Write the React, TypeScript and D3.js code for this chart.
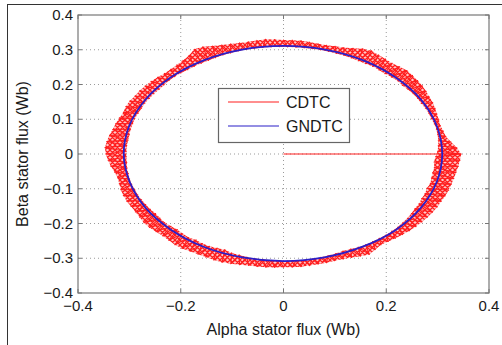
import React, { useEffect, useRef } from "react";
import * as d3 from "d3";

// tick values shared by both axes (Wb)
const ticksX = [-0.4, -0.2, 0, 0.2, 0.4];
const ticksY = [-0.4, -0.3, -0.2, -0.1, 0, 0.1, 0.2, 0.3, 0.4];

// CDTC flux trajectory: hysteresis band envelope, one pair every 3 degrees (0..357)
const cdtcStep = 3;
const cdtcOuter = [
  0.346, 0.338, 0.328, 0.320, 0.318, 0.316, 0.318, 0.320, 0.323, 0.326,
  0.328, 0.331, 0.334, 0.336, 0.338, 0.340, 0.338, 0.336, 0.338, 0.340,
  0.343, 0.340, 0.333, 0.328, 0.326, 0.324, 0.324, 0.326, 0.328, 0.328,
  0.328, 0.330, 0.332, 0.331, 0.330, 0.331, 0.333, 0.336, 0.340, 0.346,
  0.348, 0.338, 0.333, 0.330, 0.328, 0.328, 0.330, 0.332, 0.333, 0.334,
  0.334, 0.336, 0.336, 0.334, 0.336, 0.338, 0.340, 0.343, 0.346, 0.348,
  0.346, 0.342, 0.338, 0.333, 0.330, 0.331, 0.333, 0.334, 0.334, 0.333,
  0.333, 0.334, 0.336, 0.336, 0.334, 0.333, 0.334, 0.336, 0.336, 0.334,
  0.333, 0.333, 0.334, 0.334, 0.332, 0.330, 0.328, 0.328, 0.328, 0.327,
  0.326, 0.326, 0.326, 0.325, 0.324, 0.324, 0.323, 0.324, 0.326, 0.330,
  0.334, 0.328, 0.323, 0.324, 0.326, 0.328, 0.330, 0.332, 0.333, 0.334,
  0.335, 0.336, 0.336, 0.337, 0.338, 0.338, 0.339, 0.340, 0.342, 0.344,
];
const cdtcInner = [
  0.300, 0.302, 0.304, 0.305, 0.306, 0.306, 0.305, 0.306, 0.306, 0.305,
  0.306, 0.306, 0.305, 0.304, 0.306, 0.305, 0.304, 0.305, 0.306, 0.305,
  0.305, 0.306, 0.307, 0.307, 0.308, 0.308, 0.308, 0.308, 0.308, 0.308,
  0.309, 0.309, 0.309, 0.309, 0.309, 0.309, 0.308, 0.308, 0.307, 0.306,
  0.306, 0.306, 0.306, 0.307, 0.307, 0.307, 0.306, 0.305, 0.306, 0.306,
  0.307, 0.306, 0.306, 0.307, 0.306, 0.306, 0.305, 0.305, 0.306, 0.306,
  0.306, 0.306, 0.307, 0.307, 0.308, 0.308, 0.307, 0.307, 0.306, 0.305,
  0.304, 0.302, 0.303, 0.304, 0.302, 0.300, 0.302, 0.303, 0.300, 0.302,
  0.302, 0.300, 0.298, 0.302, 0.303, 0.305, 0.306, 0.306, 0.307, 0.307,
  0.308, 0.308, 0.308, 0.307, 0.306, 0.305, 0.304, 0.302, 0.303, 0.305,
  0.306, 0.306, 0.306, 0.307, 0.306, 0.306, 0.305, 0.304, 0.302, 0.300,
  0.300, 0.298, 0.298, 0.296, 0.298, 0.296, 0.295, 0.296, 0.294, 0.296,
];
// start-up segment of CDTC from the origin
const cdtcStart = [
  [0, 0],
  [0.31, 0],
];

// GNDTC flux trajectory, radius every 15 degrees
const gndtcStep = 15;
const gndtcR = [
  0.309, 0.309, 0.310, 0.310, 0.311, 0.311, 0.311, 0.311, 0.311, 0.311, 0.311, 0.311,
  0.311, 0.310, 0.310, 0.309, 0.309, 0.308, 0.308, 0.308, 0.308, 0.309, 0.309, 0.309,
];

const seriesNames = ["CDTC", "GNDTC"];
const seriesColors = ["#ff1e1e", "#2a1fc8"];

const W = 502;
const H = 345;
const FONT = "'Liberation Sans', Arial, Helvetica, sans-serif";

export default function App() {
  const ref = useRef<SVGSVGElement>(null);

  useEffect(() => {
    if (!ref.current) return;
    const svg = d3.select(ref.current);
    svg.selectAll("*").remove();

    const x = d3.scaleLinear().domain([-0.4, 0.4]).range([78, 489]);
    const y = d3.scaleLinear().domain([-0.4, 0.4]).range([293, 15]);

    svg.append("rect").attr("width", W).attr("height", H).attr("fill", "#fff");
    // figure frame
    svg
      .append("rect")
      .attr("x", 7.5)
      .attr("y", 4.5)
      .attr("width", 520)
      .attr("height", 360)
      .attr("fill", "none")
      .attr("stroke", "#333")
      .attr("stroke-width", 1);

    // crosshatch used for the densely switching CDTC band
    const defs = svg.append("defs");
    const pat = defs
      .append("pattern")
      .attr("id", "cdtc-hatch")
      .attr("patternUnits", "userSpaceOnUse")
      .attr("width", 5)
      .attr("height", 5);
    pat.append("rect").attr("width", 5).attr("height", 5).attr("fill", "#ffc8c8");
    pat
      .append("path")
      .attr("d", "M0,0L5,5M0,5L5,0M-1,4L1,6M4,-1L6,1M-1,1L1,-1M4,6L6,4")
      .attr("stroke", seriesColors[0])
      .attr("stroke-width", 1.25);

    // grid
    const grid = svg.append("g").attr("stroke", "#9a9a9a").attr("stroke-width", 1).attr("stroke-dasharray", "1,3");
    ticksX.slice(1, -1).forEach((t) => {
      grid.append("line").attr("x1", x(t)).attr("x2", x(t)).attr("y1", y(-0.4)).attr("y2", y(0.4));
    });
    ticksY.slice(1, -1).forEach((t) => {
      grid.append("line").attr("x1", x(-0.4)).attr("x2", x(0.4)).attr("y1", y(t)).attr("y2", y(t));
    });

    const toXY = (r: number, deg: number): [number, number] => {
      const a = (deg * Math.PI) / 180;
      return [x(r * Math.cos(a)), y(r * Math.sin(a))];
    };

    // CDTC band (envelope of the switching trajectory)
    const outerPts = cdtcOuter.map((r, i) => toXY(r, i * cdtcStep));
    const innerPts = cdtcInner.map((r, i) => toXY(r, i * cdtcStep + cdtcStep / 2));
    const closed = d3.line().curve(d3.curveLinearClosed);
    svg
      .append("path")
      .attr("d", (closed(outerPts) || "") + (closed(innerPts) || ""))
      .attr("fill", "url(#cdtc-hatch)")
      .attr("fill-rule", "evenodd")
      .attr("stroke", "none");

    // CDTC trajectory
    const pts: [number, number][] = cdtcStart.map((p) => [x(p[0]), y(p[1])] as [number, number]);
    cdtcOuter.forEach((ro, i) => {
      pts.push(toXY(ro, i * cdtcStep));
      pts.push(toXY(cdtcInner[i], i * cdtcStep + cdtcStep / 2));
    });
    pts.push(toXY(cdtcOuter[0], 360));
    svg
      .append("path")
      .attr("d", d3.line()(pts))
      .attr("fill", "none")
      .attr("stroke", seriesColors[0])
      .attr("stroke-width", 1.1)
      .attr("stroke-linejoin", "round");

    // GNDTC
    const gpts = gndtcR.map((r, i) => toXY(r, i * gndtcStep));
    svg
      .append("path")
      .attr("d", d3.line().curve(d3.curveCatmullRomClosed)(gpts))
      .attr("fill", "none")
      .attr("stroke", seriesColors[1])
      .attr("stroke-width", 1.8);

    // axes box
    svg
      .append("rect")
      .attr("x", x(-0.4))
      .attr("y", y(0.4))
      .attr("width", x(0.4) - x(-0.4))
      .attr("height", y(-0.4) - y(0.4))
      .attr("fill", "none")
      .attr("stroke", "#777")
      .attr("stroke-width", 1.2);

    // ticks (inside)
    const tk = svg.append("g").attr("stroke", "#777").attr("stroke-width", 1);
    ticksX.forEach((t) => {
      tk.append("line").attr("x1", x(t)).attr("x2", x(t)).attr("y1", y(-0.4)).attr("y2", y(-0.4) - 4);
      tk.append("line").attr("x1", x(t)).attr("x2", x(t)).attr("y1", y(0.4)).attr("y2", y(0.4) + 4);
    });
    ticksY.forEach((t) => {
      tk.append("line").attr("x1", x(-0.4)).attr("x2", x(-0.4) + 4).attr("y1", y(t)).attr("y2", y(t));
      tk.append("line").attr("x1", x(0.4)).attr("x2", x(0.4) - 4).attr("y1", y(t)).attr("y2", y(t));
    });

    const fmt = (v: number) => (v === 0 ? "0" : d3.format(".1f")(v).replace("-", "\u2212"));

    svg
      .append("g")
      .selectAll("text")
      .data(ticksX)
      .enter()
      .append("text")
      .attr("x", (d) => x(d))
      .attr("y", 311)
      .attr("text-anchor", "middle")
      .attr("font-family", FONT)
      .attr("font-size", 15)
      .attr("fill", "#1a1a1a")
      .text(fmt);

    svg
      .append("g")
      .selectAll("text")
      .data(ticksY)
      .enter()
      .append("text")
      .attr("x", 73)
      .attr("y", (d) => y(d) + 5)
      .attr("text-anchor", "end")
      .attr("font-family", FONT)
      .attr("font-size", 15)
      .attr("fill", "#1a1a1a")
      .text(fmt);

    svg
      .append("text")
      .attr("x", x(0))
      .attr("y", 335)
      .attr("text-anchor", "middle")
      .attr("font-family", FONT)
      .attr("font-size", 16)
      .attr("fill", "#1a1a1a")
      .text("Alpha stator flux (Wb)");

    svg
      .append("text")
      .attr("transform", `translate(28,${y(0)}) rotate(-90)`)
      .attr("text-anchor", "middle")
      .attr("font-family", FONT)
      .attr("font-size", 16)
      .attr("fill", "#1a1a1a")
      .text("Beta stator flux (Wb)");

    // legend
    const lg = svg.append("g").attr("transform", "translate(218,88)");
    lg.append("rect")
      .attr("x", 0.5)
      .attr("y", 0.5)
      .attr("width", 131)
      .attr("height", 54)
      .attr("fill", "#fff")
      .attr("stroke", "#666")
      .attr("stroke-width", 1.2);
    seriesNames.forEach((name, i) => {
      const ly = 14 + i * 24;
      lg.append("line")
        .attr("x1", 10)
        .attr("x2", 61)
        .attr("y1", ly)
        .attr("y2", ly)
        .attr("stroke", seriesColors[i])
        .attr("stroke-width", 1.2);
      lg.append("text")
        .attr("x", 68)
        .attr("y", ly + 6)
        .attr("font-family", FONT)
        .attr("font-size", 16)
        .attr("fill", "#1a1a1a")
        .text(name);
    });
  }, []);

  return (
    <svg
      ref={ref}
      width={W}
      height={H}
      style={{ position: "absolute", left: 0, top: 0, display: "block" }}
    />
  );
}
